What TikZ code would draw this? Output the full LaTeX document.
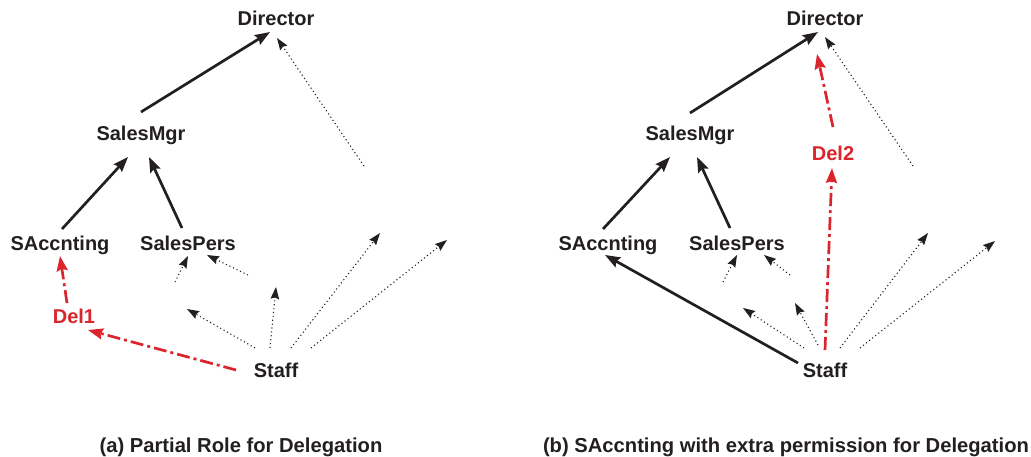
\documentclass[tikz,border=0pt]{standalone}
\usepackage{fontspec}
\setmainfont{Liberation Sans}
\usetikzlibrary{arrows.meta}
\definecolor{delred}{RGB}{218,37,45}
\definecolor{inkblk}{RGB}{35,31,32}
\begin{document}
\begin{tikzpicture}[x=1pt,y=-1pt,
  every node/.style={font=\fontsize{20}{24}\selectfont\bfseries,text=inkblk,inner sep=0pt,text height=14.4pt,text depth=0pt},
  delnode/.style={text=delred},
  capnode/.style={font=\fontsize{20.2}{24}\selectfont\bfseries},
  inh/.style={draw=inkblk,line width=2.7pt,-{Stealth[length=15pt,width=11pt,inset=2pt]}},
  perm/.style={draw=inkblk,line width=1.1pt,dash pattern=on 1.1pt off 2.8pt,-{Stealth[length=12pt,width=8.5pt,inset=1.5pt]}},
  deleg/.style={draw=delred,line width=2.7pt,dash pattern=on 13pt off 4pt on 3pt off 4pt,-{Stealth[length=15pt,width=11pt,inset=2pt]}}]
\useasboundingbox (0,0) rectangle (1031,457);
% (a) partial role
\node (dirA) at (276,18) {Director};
\node (smA) at (141,133) {SalesMgr};
\node (saA) at (60,243) {SAccnting};
\node (spA) at (188,243) {SalesPers};
\node[delnode] (delA) at (74,316) {Del1};
\node (stA) at (276,370) {Staff};
\coordinate (pA1) at (364,166);
\coordinate (pA2) at (175,282);
\coordinate (pA3) at (248,275);
\coordinate (pA4) at (187,309);
\coordinate (pA5) at (276,287);
\coordinate (pA6) at (380,233);
\coordinate (pA7) at (447,240);
\draw[inh] ([shift={(0,-21)}]smA.center) -- ([shift={(-6,14)}]dirA.center);
\draw[inh] ([shift={(2,-14)}]saA.center) -- ([shift={(-13,24)}]smA.center);
\draw[inh] ([shift={(-6,-15)}]spA.center) -- ([shift={(8,24)}]smA.center);
\draw[deleg] ([shift={(-7,-13)}]delA.center) -- ([shift={(0,13)}]saA.center);
\draw[deleg] ([shift={(-40,0)}]stA.center) -- ([shift={(14,14)}]delA.center);
\draw[perm] (pA1) -- ([shift={(1,20)}]dirA.center);
\draw[perm] (pA2) -- ([shift={(0,13)}]spA.center);
\draw[perm] (pA3) -- ([shift={(19,12)}]spA.center);
\draw[perm] ([shift={(-21,-22)}]stA.center) -- (pA4);
\draw[perm] ([shift={(-6,-22)}]stA.center) -- (pA5);
\draw[perm] ([shift={(15,-22)}]stA.center) -- (pA6);
\draw[perm] ([shift={(35,-22)}]stA.center) -- (pA7);
\node[capnode] (capA) at (241,445) {(a) Partial Role for Delegation};
% (b) extra permission
\node (dirB) at (825,18) {Director};
\node (smB) at (690,133) {SalesMgr};
\node (saB) at (608,243) {SAccnting};
\node (spB) at (737,243) {SalesPers};
\node[delnode] (delB) at (833,153) {Del2};
\node (stB) at (825,370) {Staff};
\coordinate (pB1) at (913,166);
\coordinate (pB2) at (723,282);
\coordinate (pB3) at (790,275);
\coordinate (pB4) at (743,308);
\coordinate (pB5) at (795,303);
\coordinate (pB6) at (928,233);
\coordinate (pB7) at (995,241);
\draw[inh] ([shift={(0,-20)}]smB.center) -- ([shift={(-7,14)}]dirB.center);
\draw[inh] ([shift={(-5,-14)}]saB.center) -- ([shift={(-20,24)}]smB.center);
\draw[inh] ([shift={(-7,-15)}]spB.center) -- ([shift={(7,24)}]smB.center);
\draw[inh] ([shift={(-27,-7)}]stB.center) -- ([shift={(-3,12)}]saB.center);
\draw[deleg] ([shift={(0,-26)}]delB.center) -- ([shift={(-8,36)}]dirB.center);
\draw[deleg] ([shift={(0,-20)}]stB.center) -- ([shift={(-1,15)}]delB.center);
\draw[perm] (pB1) -- ([shift={(0,19)}]dirB.center);
\draw[perm] (pB2) -- ([shift={(0,12)}]spB.center);
\draw[perm] (pB3) -- ([shift={(27,12)}]spB.center);
\draw[perm] ([shift={(-21,-22)}]stB.center) -- (pB4);
\draw[perm] ([shift={(-7,-25)}]stB.center) -- (pB5);
\draw[perm] ([shift={(15,-22)}]stB.center) -- (pB6);
\draw[perm] ([shift={(35,-22)}]stB.center) -- (pB7);
\node[capnode] (capB) at (786,445) {(b) SAccnting with extra permission for Delegation};
\end{tikzpicture}
\end{document}
